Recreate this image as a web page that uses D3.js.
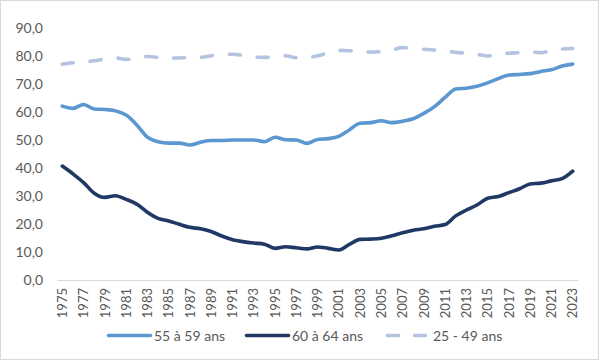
<!DOCTYPE html>
<html><head><meta charset="utf-8">
<script src="https://cdn.jsdelivr.net/npm/d3@7"></script>
<style>body{margin:0;background:#fff}svg{display:block}</style>
</head><body>
<svg id="c" width="600" height="361"></svg>
<script>
const years = d3.range(1975, 2024);
const s5559 = [62.1,61.3,62.7,61.1,60.9,60.4,58.9,55.4,51.0,49.4,48.9,48.9,48.2,49.2,49.8,49.8,
  50.0,50.0,50.0,49.4,51.0,50.1,50.0,48.8,50.2,50.5,51.3,53.6,56.0,56.2,56.9,56.2,
  56.7,57.6,59.5,61.9,65.2,68.2,68.5,69.2,70.4,71.9,73.2,73.4,73.7,74.5,75.1,76.4,77.1];
const s6064 = [40.7,37.9,34.8,31.0,29.5,30.1,28.8,27.1,24.2,22.0,21.1,19.9,18.8,18.3,17.3,15.7,
  14.4,13.7,13.2,12.8,11.3,11.9,11.5,11.1,11.8,11.3,10.7,12.7,14.5,14.6,14.9,15.8,
  16.9,17.8,18.3,19.2,19.8,22.9,25.0,26.8,29.2,29.8,31.2,32.6,34.3,34.6,35.4,36.2,38.9];
const s2549 = [77.1,77.6,77.9,78.3,78.9,79.3,78.8,79.3,79.8,79.5,79.2,79.3,79.4,79.5,80.1,80.6,
  80.6,80.2,79.6,79.5,79.8,80.1,79.4,79.5,80.1,81.1,82.0,81.9,81.5,81.4,81.6,82.1,
  83.0,82.7,82.4,82.1,81.9,81.3,81.0,80.6,80.0,80.6,81.0,81.2,81.5,81.2,81.9,82.5,82.7];
const yTicks = [0,10,20,30,40,50,60,70,80,90];
const seriesNames = ["55 à 59 ans","60 à 64 ans","25 - 49 ans"];

const svg = d3.select("#c");
const font = "Lato, 'Open Sans', sans-serif";
svg.append("rect").attr("x",0.5).attr("y",0.5).attr("width",598).attr("height",359)
  .attr("fill","#fff").attr("stroke","#d9d9d9");

const x = d3.scaleBand().domain(years).range([57,578]);
const y = d3.scaleLinear().domain([0,90]).range([280,28]);
const cx = d => x(d) + x.bandwidth()/2;

// y axis labels
const fmt = d => d3.format(".1f")(d).replace(".", ",");
const ya = svg.append("g").attr("transform","translate(43,0)")
  .call(d3.axisLeft(y).tickValues(yTicks).tickFormat(fmt).tickSize(0).tickPadding(0));
ya.select(".domain").remove();
ya.selectAll("text").attr("fill","#595959").style("font-family",font).style("font-size","14px");

// x axis
const xa = svg.append("g").attr("transform","translate(0,280)")
  .call(d3.axisBottom(x).tickValues(years.filter(d => (d-1975)%2===0)).tickSize(0).tickPadding(0));
xa.select(".domain").attr("stroke","#d9d9d9").attr("stroke-width",1);
xa.selectAll("text").attr("fill","#595959").style("font-family",font).style("font-size","13px")
  .attr("transform","translate(0,8) rotate(-90)").attr("text-anchor","end")
  .attr("x",0).attr("y",0).attr("dy","0.36em");

const line = d3.line().x((d,i) => cx(years[i])).y(d => y(d)).curve(d3.curveMonotoneX);
const styles = [
  {data:s5559, color:"#5b97d0", dash:null},
  {data:s6064, color:"#1f3864", dash:null},
  {data:s2549, color:"#b4c4e0", dash:"11,17"}
];
styles.slice().reverse().forEach(s => {
  svg.append("path").datum(s.data).attr("d", line).attr("fill","none")
    .attr("stroke", s.color).attr("stroke-width",3.6).attr("stroke-linecap","round")
    .attr("stroke-linejoin","round").attr("stroke-dasharray", s.dash);
});

// legend
const legX = [107, 245, 386];
const lg = svg.append("g");
styles.forEach((s,i) => {
  const g = lg.append("g").attr("transform",`translate(${legX[i]},335.5)`);
  g.append("line").attr("x1",1.5).attr("x2",43.5).attr("y1",0).attr("y2",0)
    .attr("stroke",s.color).attr("stroke-width",3.6).attr("stroke-linecap","round")
    .attr("stroke-dasharray", s.dash ? "11,16" : null);
  g.append("text").attr("x",47).attr("y",0).attr("dy","0.36em").text(seriesNames[i])
    .attr("fill","#595959").style("font-family",font).style("font-size","14px");
});
</script>
</body></html>
